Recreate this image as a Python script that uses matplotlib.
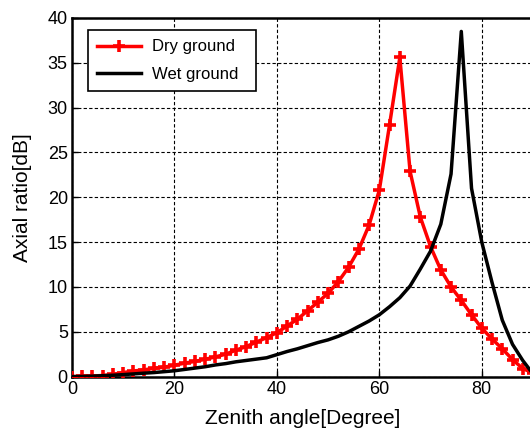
from matplotlib import pyplot as plt
import numpy as np

# zenith angle in degrees, one sample every 2 degrees
angle = np.arange(0, 92, 2)

# axial ratio (dB)
dry_ground = [0.0, 0.03, 0.07, 0.12, 0.25, 0.45, 0.62, 0.75, 0.92, 1.05,
              1.27, 1.5, 1.7, 1.93, 2.2, 2.5, 2.95, 3.35, 3.85, 4.35,
              4.9, 5.65, 6.4, 7.35, 8.3, 9.3, 10.6, 12.2, 14.2, 16.9,
              20.8, 28.1, 35.6, 22.9, 17.8, 14.5, 11.9, 10.0, 8.5, 6.9,
              5.4, 4.2, 3.1, 1.9, 0.9, 0.4]
wet_ground = [0.0, 0.02, 0.05, 0.1, 0.15, 0.22, 0.3, 0.38, 0.45, 0.55,
              0.65, 0.8, 0.95, 1.1, 1.3, 1.45, 1.65, 1.8, 1.95, 2.1,
              2.45, 2.8, 3.1, 3.45, 3.8, 4.1, 4.5, 5.0, 5.6, 6.2,
              6.9, 7.8, 8.8, 10.1, 12.0, 14.0, 17.0, 22.6, 38.5, 21.0,
              15.0, 10.5, 6.3, 3.6, 1.8, 0.3]

plt.rcParams['font.family'] = ['Liberation Sans', 'DejaVu Sans']

f = plt.figure(figsize=(5.3, 4.3), dpi=100)
ax = f.add_axes([72 / 530, 53.4 / 430, 461 / 530, 358.6 / 430])

ax.plot(angle, dry_ground, color='red', lw=2.5, marker='+',
        markersize=8, markeredgewidth=2.6, label='Dry ground', zorder=3)
ax.plot(angle, wet_ground, color='black', lw=2.5, label='Wet ground',
        zorder=3)

ax.set_xlim(0, 90)
ax.set_ylim(0, 40)
ax.set_xticks([0, 20, 40, 60, 80])
ax.set_yticks(np.arange(0, 45, 5))
ax.grid(True, color='black', linestyle=(0, (3, 2)), lw=0.8)
ax.tick_params(axis='both', direction='in', length=4, width=1,
               labelsize=13, pad=3)
for s in ax.spines.values():
    s.set_linewidth(1.8)

ax.set_xlabel('Zenith angle[Degree]', fontsize=15, labelpad=8)
ax.set_ylabel('Axial ratio[dB]', fontsize=15, labelpad=11)

# MATLAB style legend box, wider than its text
leg = ax.legend(loc='upper left', fontsize=12, fancybox=False,
                framealpha=1, edgecolor='black', borderpad=0.55,
                handlelength=2.6, handletextpad=0.7, labelspacing=0.75,
                borderaxespad=0, mode='expand',
                bbox_to_anchor=(0.035, 0.5, 0.364, 0.466))
leg.get_frame().set_linewidth(1.2)

plt.savefig('out.png', dpi=100)
